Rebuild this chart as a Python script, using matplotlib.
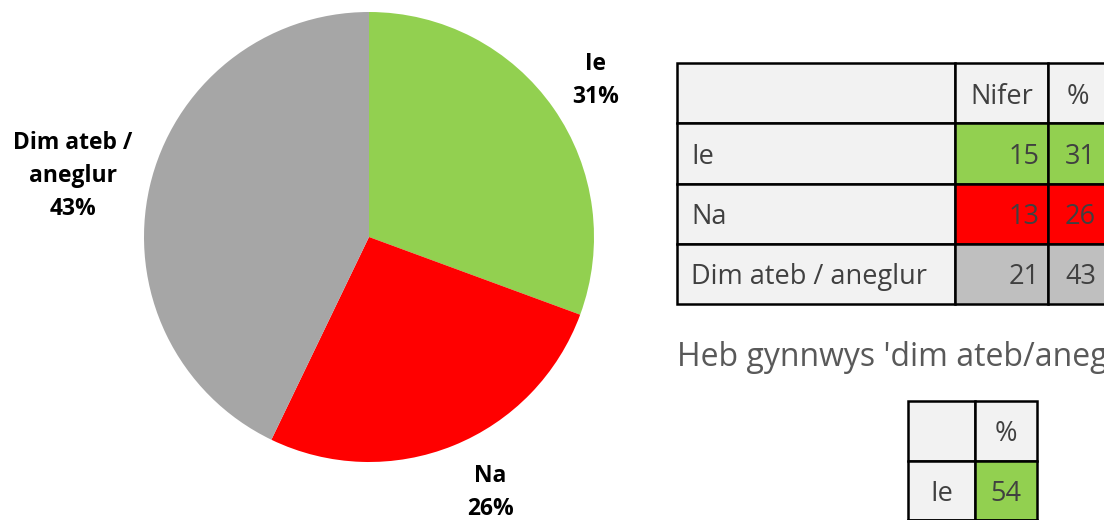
import numpy as np
import matplotlib
matplotlib.use("Agg")
import matplotlib.pyplot as plt

# data
categories = ["Ie", "Na", "Dim ateb / aneglur"]
pie_labels = ["Ie", "Na", "Dim ateb /\naneglur"]
counts = [15, 13, 21]
percents = [31, 26, 43]
colors = ["#92D050", "#FF0000", "#A6A6A6"]
cell_colors = ["#92D050", "#FF0000", "#BFBFBF"]
header = ["", "Nifer", "%"]

excl_categories = ["Ie", "Na"]
excl_percents = [54, 46]
excl_colors = ["#92D050", "#FF0000"]
caption = "Heb gynnwys 'dim ateb/aneglur'"

W, H = 1104, 520
fig = plt.figure(figsize=(W / 100, H / 100), dpi=100)
fig.patch.set_facecolor("white")

TXT = "#404040"
TFONT = "Open Sans"

def px_axes(x0, y0, x1, y1):
    # axes from pixel box (top-left origin)
    return fig.add_axes([x0 / W, 1 - y1 / H, (x1 - x0) / W, (y1 - y0) / H])

# ---- pie ----
cx, cy, r = 369, 237, 225
ax = px_axes(cx - r, cy - r, cx + r, cy + r)
wedges, _ = ax.pie(counts, colors=colors, startangle=90, counterclock=False,
                   radius=1, wedgeprops=dict(linewidth=0))
ax.set_xlim(-1, 1)
ax.set_ylim(-1, 1)
ax.set_aspect("equal")
ax.axis("off")
dists = [1.23, 1.25, 1.35]
nudge = [(0.0, -0.01), (0.07, 0.025), (0.0, -0.03)]
for w, lab, p, d, (dx, dy) in zip(wedges, pie_labels, percents, dists, nudge):
    a = np.deg2rad((w.theta1 + w.theta2) / 2)
    ax.text(d * np.cos(a) + dx, d * np.sin(a) + dy, f"{lab}\n{p}%", ha="center",
            va="center", fontsize=16.5, fontweight="bold", family="Open Sans",
            color="black", linespacing=1.5, clip_on=False)

# ---- main table ----
tax = px_axes(677, 63, 1108, 304)
tax.axis("off")
rows = [header] + [[c, str(n), str(p)] for c, n, p in zip(categories, counts, percents)]
colours = [["#F2F2F2"] * 3] + [["#F2F2F2", cc, cc] for cc in cell_colors]
tbl = tax.table(cellText=rows, cellColours=colours, bbox=[0, 0, 1, 1],
                colWidths=[278, 93, 60])
tbl.auto_set_font_size(False)
for (i, j), cell in tbl.get_celld().items():
    cell.set_edgecolor("black")
    cell.set_linewidth(1.8)
    cell.set_text_props(fontsize=19.5, family=TFONT, color=TXT)
    cell.get_text().set_va("center_baseline")
    if j == 0:
        cell._loc = "left"
        cell.PAD = 0.05
        cell.get_text().set_ha("left")
    elif i == 0:
        cell._loc = "center"
        cell.get_text().set_ha("center")
    else:
        cell._loc = "right"
        cell.PAD = 0.09 if j == 1 else 0.2
        cell.get_text().set_ha("right")
tbl.set_clip_on(False)

# ---- caption ----
fig.text(677 / W, 1 - 357 / H, caption, fontsize=23, family=TFONT, color="#595959",
         va="center", ha="left")

# ---- second table ----
sax = px_axes(908, 401, 1037, 580)
sax.axis("off")
rows2 = [["", "%"]] + [[c, str(p)] for c, p in zip(excl_categories, excl_percents)]
colours2 = [["#F2F2F2"] * 2] + [["#F2F2F2", cc] for cc in excl_colors]
tbl2 = sax.table(cellText=rows2, cellColours=colours2, bbox=[0, 0, 1, 1],
                 colWidths=[67, 62])
tbl2.auto_set_font_size(False)
for (i, j), cell in tbl2.get_celld().items():
    cell.set_edgecolor("black")
    cell.set_linewidth(1.8)
    cell.set_text_props(fontsize=19.5, family=TFONT, color=TXT)
    cell.get_text().set_va("center_baseline")
    cell._loc = "center"
    cell.get_text().set_ha("center")

fig.savefig("out.png", dpi=100, facecolor="white")
